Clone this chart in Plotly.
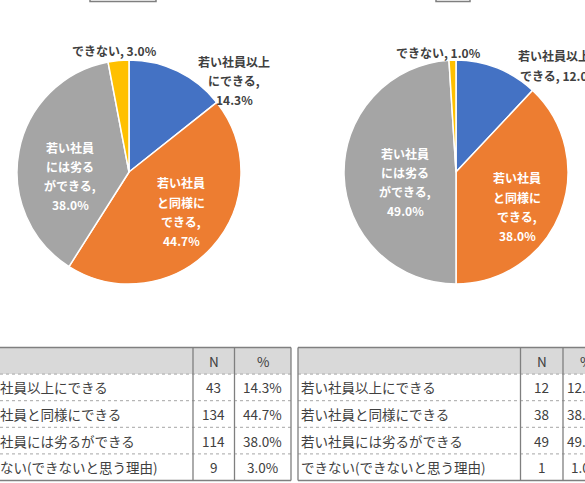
import plotly.graph_objects as go

# ---------------- data ----------------
PIE_NAMES = ["若い社員以上にできる", "若い社員と同様にできる", "若い社員には劣るができる", "できない"]
TABLE_LABELS = ["若い社員以上にできる", "若い社員と同様にできる", "若い社員には劣るができる", "できない(できないと思う理由)"]
LEFT_N = [43, 134, 114, 9]
RIGHT_N = [12, 38, 49, 1]
HEADERS = ["", "N", "%"]
COLORS = ["#4472C4", "#ED7D31", "#A5A5A5", "#FFC000"]

# ---------------- layout / style ----------------
W, H = 585, 483
FONT = "Noto Sans CJK JP"
DARK = "#404040"


def X(p):
    return p / W


def Y(p):
    return 1 - p / H


def pcts(ns):
    tot = sum(ns)
    return [f"{round(n / tot * 100, 1):.1f}%" for n in ns]


# pie geometry (center x, center y, radius) in pixels
PIES = [
    dict(cx=129, cy=172, r=112, n=LEFT_N),
    dict(cx=456, cy=172, r=112, n=RIGHT_N),
]

# label wrapping/placement: chunks of name, pct on own line?, x, first-line y, spacing, colour
LABEL_STYLE = [
    [
        dict(chunks=[6, 4], pnl=True, x=234, y=62, sp=18.5, c=DARK),
        dict(chunks=[4, 4, 3], pnl=True, x=181, y=183, sp=19.3, c="white"),
        dict(chunks=[4, 4, 4], pnl=True, x=70, y=147, sp=19.0, c="white"),
        dict(chunks=[4], pnl=False, x=114, y=50, sp=19, c=DARK),
    ],
    [
        dict(chunks=[7, 3], pnl=False, x=560, y=55, sp=20.5, c=DARK),
        dict(chunks=[4, 4, 3], pnl=True, x=517, y=178, sp=19.3, c="white"),
        dict(chunks=[4, 4, 4], pnl=True, x=405, y=153, sp=19.3, c="white"),
        dict(chunks=[4], pnl=False, x=438, y=52, sp=19, c=DARK),
    ],
]

# table geometry: column edges (px) and row edges (px)
TABLES = [
    dict(cols=[-30, 193, 234.5, 291], n=LEFT_N),
    dict(cols=[298, 520.5, 563, 609], n=RIGHT_N),
]
ROW_TOP = 347.5
ROW_H = 26.6

# title boxes (cropped at top)
TITLE_BOXES = [(90, 156), (436, 470)]

fig = go.Figure()
annotations = []
shapes = []

for pi, p in enumerate(PIES):
    fig.add_trace(go.Pie(
        values=p["n"], labels=PIE_NAMES, sort=False, direction="clockwise", rotation=0,
        marker=dict(colors=COLORS, line=dict(color="white", width=1.5)),
        textinfo="none", hoverinfo="label+percent", showlegend=False,
        domain=dict(x=[X(p["cx"] - p["r"]), X(p["cx"] + p["r"])],
                    y=[Y(p["cy"] + p["r"]), Y(p["cy"] - p["r"])]),
    ))
    pc = pcts(p["n"])
    for i, name in enumerate(PIE_NAMES):
        st = LABEL_STYLE[pi][i]
        lines = []
        k = 0
        for ch in st["chunks"]:
            lines.append(name[k:k + ch])
            k += ch
        if st["pnl"]:
            lines[-1] += ","
            lines.append(pc[i])
        else:
            lines[-1] += ", " + pc[i]
        for li, t in enumerate(lines):
            annotations.append(dict(
                x=X(st["x"]), y=Y(st["y"] + li * st["sp"]), xref="paper", yref="paper",
                text=f"<b>{t}</b>", showarrow=False, xanchor="center", yanchor="middle",
                font=dict(family=FONT, size=12, color=st["c"]),
            ))

# tables
for t in TABLES:
    cols = t["cols"]
    x0, x1 = cols[0], cols[-1]
    nrows = len(TABLE_LABELS) + 1
    ybot = ROW_TOP + ROW_H * nrows
    shapes.append(dict(type="rect", xref="paper", yref="paper", layer="below",
                       x0=X(x0), x1=X(x1), y0=Y(ROW_TOP), y1=Y(ROW_TOP + ROW_H),
                       fillcolor="#D9D9D9", line=dict(width=0)))
    for r in range(1, nrows):
        yy = ROW_TOP + ROW_H * r
        shapes.append(dict(type="line", xref="paper", yref="paper",
                           x0=X(x0), x1=X(x1), y0=Y(yy), y1=Y(yy),
                           line=dict(color="#A6A6A6", width=1, dash="dot")))
    for yy in (ROW_TOP, ybot):
        shapes.append(dict(type="line", xref="paper", yref="paper",
                           x0=X(x0), x1=X(x1), y0=Y(yy), y1=Y(yy),
                           line=dict(color="#7F7F7F", width=1.5)))
    for cx in cols:
        shapes.append(dict(type="line", xref="paper", yref="paper",
                           x0=X(cx), x1=X(cx), y0=Y(ROW_TOP), y1=Y(ybot),
                           line=dict(color="#7F7F7F", width=1.3)))
    for c in (1, 2):
        annotations.append(dict(
            x=X((cols[c] + cols[c + 1]) / 2), y=Y(ROW_TOP + ROW_H / 2), xref="paper", yref="paper",
            text=HEADERS[c], showarrow=False, xanchor="center", yanchor="middle",
            font=dict(family=FONT, size=13.5, color=DARK)))
    pc = pcts(t["n"])
    for r, lab in enumerate(TABLE_LABELS):
        yc = Y(ROW_TOP + ROW_H * (r + 1) + ROW_H / 2)
        annotations.append(dict(
            x=X(x0 + 1), y=yc, xref="paper", yref="paper", text=lab, showarrow=False,
            xanchor="left", yanchor="middle", font=dict(family=FONT, size=13.5, color=DARK)))
        annotations.append(dict(
            x=X((cols[1] + cols[2]) / 2), y=yc, xref="paper", yref="paper", text=str(t["n"][r]),
            showarrow=False, xanchor="center", yanchor="middle",
            font=dict(family=FONT, size=13.5, color=DARK)))
        annotations.append(dict(
            x=X((cols[2] + cols[3]) / 2), y=yc, xref="paper", yref="paper", text=pc[r],
            showarrow=False, xanchor="center", yanchor="middle",
            font=dict(family=FONT, size=13.5, color=DARK)))

for bx0, bx1 in TITLE_BOXES:
    shapes.append(dict(type="rect", xref="paper", yref="paper",
                       x0=X(bx0), x1=X(bx1), y0=Y(1.5), y1=Y(-30),
                       fillcolor="white", line=dict(color="#7F7F7F", width=1.5)))

fig.update_layout(
    width=W, height=H, margin=dict(l=0, r=0, t=0, b=0),
    paper_bgcolor="white", plot_bgcolor="white",
    annotations=annotations, shapes=shapes,
    font=dict(family=FONT),
)

fig.write_html(
    "out.html",
    config={"displayModeBar": False},
    post_script="document.body.style.margin='0';document.body.style.overflow='hidden';",
)
